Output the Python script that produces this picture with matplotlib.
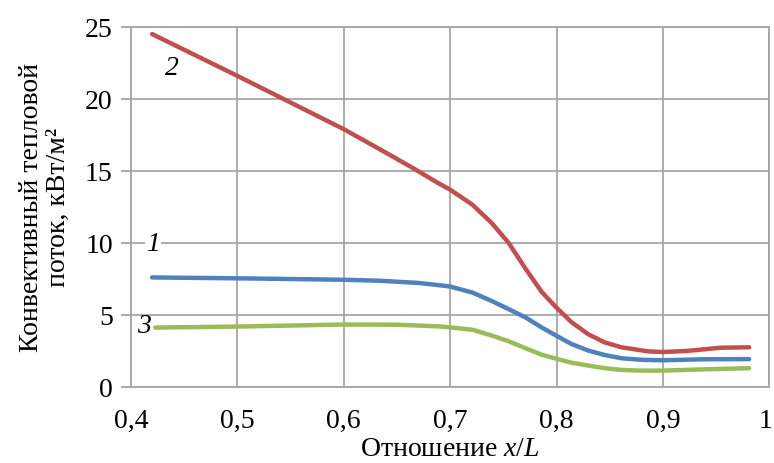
import matplotlib.pyplot as plt
from matplotlib.transforms import ScaledTranslation

plt.rcParams['font.family'] = ['Liberation Serif', 'DejaVu Serif']
plt.rcParams['mathtext.fontset'] = 'custom'
plt.rcParams['mathtext.rm'] = 'Liberation Serif'
plt.rcParams['mathtext.it'] = 'Liberation Serif:italic'

# кривая 2 (красная)
x_red = [0.42, 0.46, 0.5, 0.55, 0.6, 0.634, 0.665, 0.69, 0.7, 0.721, 0.739,
         0.755, 0.771, 0.786, 0.8, 0.814, 0.83, 0.845, 0.861, 0.886, 0.9,
         0.923, 0.954, 0.981]
y_red = [24.5, 23.05, 21.6, 19.75, 17.9, 16.5, 15.2, 14.1, 13.7, 12.65, 11.39,
         10.0, 8.2, 6.6, 5.5, 4.5, 3.65, 3.1, 2.75, 2.47, 2.42,
         2.5, 2.72, 2.75]

# кривая 1 (синяя)
x_blue = [0.42, 0.5, 0.6, 0.634, 0.67, 0.69, 0.7, 0.721, 0.739, 0.755, 0.771,
          0.786, 0.8, 0.814, 0.83, 0.845, 0.861, 0.88, 0.9, 0.939, 0.981]
y_blue = [7.6, 7.54, 7.44, 7.37, 7.22, 7.06, 6.97, 6.55, 5.97, 5.4, 4.82,
          4.13, 3.55, 2.98, 2.52, 2.22, 1.99, 1.88, 1.85, 1.92, 1.93]

# кривая 3 (зелёная)
x_green = [0.423, 0.5, 0.6, 0.65, 0.69, 0.7, 0.721, 0.739, 0.755, 0.771, 0.786,
           0.8, 0.814, 0.83, 0.845, 0.861, 0.88, 0.9, 0.939, 0.981]
y_green = [4.12, 4.19, 4.33, 4.32, 4.2, 4.13, 3.97, 3.57, 3.17, 2.68, 2.24,
           1.95, 1.68, 1.48, 1.3, 1.18, 1.13, 1.13, 1.22, 1.3]

x_ticks = [0.4, 0.5, 0.6, 0.7, 0.8, 0.9, 1.0]
x_tick_labels = ['0,4', '0,5', '0,6', '0,7', '0,8', '0,9', '1']
y_ticks = [0, 5, 10, 15, 20, 25]

fig = plt.figure(figsize=(7.74, 4.64), dpi=100)
ax = fig.add_axes([0.169, 0.164, 0.825, 0.776])

ax.plot(x_red, y_red, color='#C0504D', lw=3.2, solid_capstyle='round')
ax.plot(x_blue, y_blue, color='#4F81BD', lw=3.2, solid_capstyle='round')
ax.plot(x_green, y_green, color='#9BBB59', lw=3.2, solid_capstyle='round')

ax.text(0.439, 22.2, '2', fontsize=20, style='italic', ha='center', va='center')
ax.text(0.421, 9.95, '1', fontsize=20, style='italic', ha='center', va='center',
        bbox=dict(facecolor='white', edgecolor='none', pad=1))
ax.text(0.412, 4.25, '3', fontsize=20, style='italic', ha='center', va='center')

ax.set_xlim(0.4, 1.0)
ax.set_ylim(0, 25)
ax.set_xticks(x_ticks)
ax.set_xticklabels(x_tick_labels)
ax.set_yticks(y_ticks)
ax.grid(True, color='#A6A6A6', lw=1.3)
ax.set_axisbelow(True)
for s in ax.spines.values():
    s.set_color('#A6A6A6')
    s.set_linewidth(1.3)
ax.tick_params(axis='y', length=7, width=1.3, color='#A6A6A6', labelsize=20, pad=6)
ax.tick_params(axis='x', length=0, labelsize=20, pad=15)

# последняя подпись "1" чуть левее, чтобы не обрезалась
last = ax.get_xticklabels()[-1]
last.set_transform(last.get_transform() + ScaledTranslation(-3 / 72, 0, fig.dpi_scale_trans))

ax.set_xlabel(r'Отношение $x/L$', fontsize=20, labelpad=2)
ax.set_ylabel('Конвективный тепловой\nпоток, кВт/м²', fontsize=20, labelpad=10,
              linespacing=1.1)

fig.savefig('out.png', dpi=100)
